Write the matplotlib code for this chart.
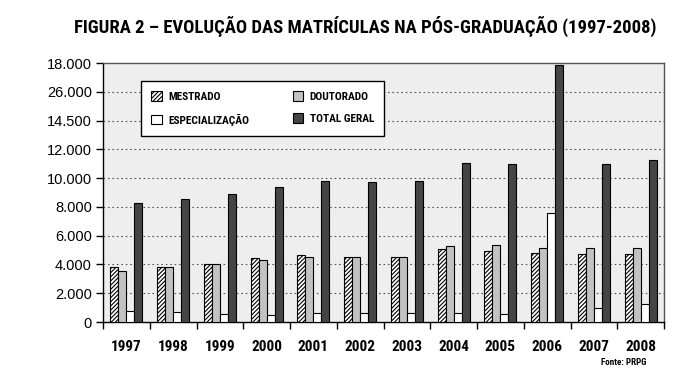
import numpy as np
from matplotlib import pyplot as plt

anos = ['1997', '1998', '1999', '2000', '2001', '2002', '2003', '2004', '2005', '2006', '2007', '2008']
mestrado = [3830, 3810, 4060, 4480, 4640, 4530, 4550, 5090, 4920, 4810, 4740, 4760]
doutorado = [3570, 3800, 4060, 4290, 4530, 4530, 4550, 5250, 5320, 5160, 5160, 5110]
especializacao = [790, 680, 580, 490, 610, 610, 610, 610, 540, 7610, 980, 1240]
total_geral = [8280, 8540, 8890, 9360, 9800, 9730, 9800, 11020, 10970, 17860, 10950, 11230]
y_ticks = [0, 2000, 4000, 6000, 8000, 10000, 12000, 14000, 16000, 18000]
y_labels = ['0', '2.000', '4.000', '6.000', '8.000', '10.000', '12.000', '14.500', '26.000', '18.000']

narrow = ['Roboto Condensed', 'DejaVu Sans']
plt.rcParams['font.family'] = ['Liberation Sans', 'DejaVu Sans']
plt.rcParams['hatch.linewidth'] = 0.8

fig = plt.figure(figsize=(6.8, 3.82), dpi=100)
ax = fig.add_axes([0.1515, 0.157, 0.825, 0.678])
ax.set_facecolor('#eeeeee')

x = np.arange(len(anos))
w = 0.172
kw = dict(width=w, edgecolor='black', linewidth=0.8, zorder=3)
b1 = ax.bar(x - 1.5 * w, mestrado, color='white', hatch='////////', label='MESTRADO', **kw)
b2 = ax.bar(x - 0.5 * w, doutorado, color='#c2c2c2', label='DOUTORADO', **kw)
b3 = ax.bar(x + 0.5 * w, especializacao, color='white', label='ESPECIALIZAÇÃO', **kw)
b4 = ax.bar(x + 1.5 * w, total_geral, color='#454545', label='TOTAL GERAL', **kw)

ax.set_xlim(-0.5, len(anos) - 0.5)
ax.set_ylim(0, 18000)
ax.set_yticks(y_ticks)
ax.set_yticklabels(y_labels, fontsize=10.5)
ax.set_xticks(x)
ax.set_xticklabels(anos, fontsize=11, fontweight='bold', family=narrow)
ax.set_xticks(np.arange(len(anos) + 1) - 0.5, minor=True)
ax.tick_params(axis='x', which='major', length=0, pad=13)
ax.tick_params(axis='x', which='minor', length=5, width=1)
ax.tick_params(axis='y', length=5, width=1, pad=3)

for v in y_ticks[1:-1]:
    ax.axhline(v, color='#555555', linestyle=(0, (1.5, 2.5)), linewidth=0.8, zorder=1)

for s in ['top', 'right']:
    ax.spines[s].set_color('#555555')
    ax.spines[s].set_linewidth(1)
ax.spines['left'].set_linewidth(1)
ax.spines['bottom'].set_linewidth(1)

leg = ax.legend(handles=[b1, b3, b2, b4], ncol=2, loc='upper left',
                bbox_to_anchor=(0.068, 0.93), borderaxespad=0, fancybox=False,
                edgecolor='black', framealpha=1, columnspacing=3.8,
                handlelength=0.9, handleheight=0.9, handletextpad=0.6,
                labelspacing=1.0, borderpad=0.9,
                prop={'family': narrow, 'weight': 'bold', 'size': 8.2})
leg.get_frame().set_linewidth(1)

fig.text(0.537, 0.932, 'FIGURA 2 – EVOLUÇÃO DAS MATRÍCULAS NA PÓS-GRADUAÇÃO (1997-2008)',
         ha='center', va='center', fontsize=13.4, fontweight='bold', family=narrow)
fig.text(0.95, 0.05, 'Fonte: PRPG', ha='right', va='center', fontsize=6.5,
         fontweight='bold', family=narrow)

fig.savefig('out.png', dpi=100)
